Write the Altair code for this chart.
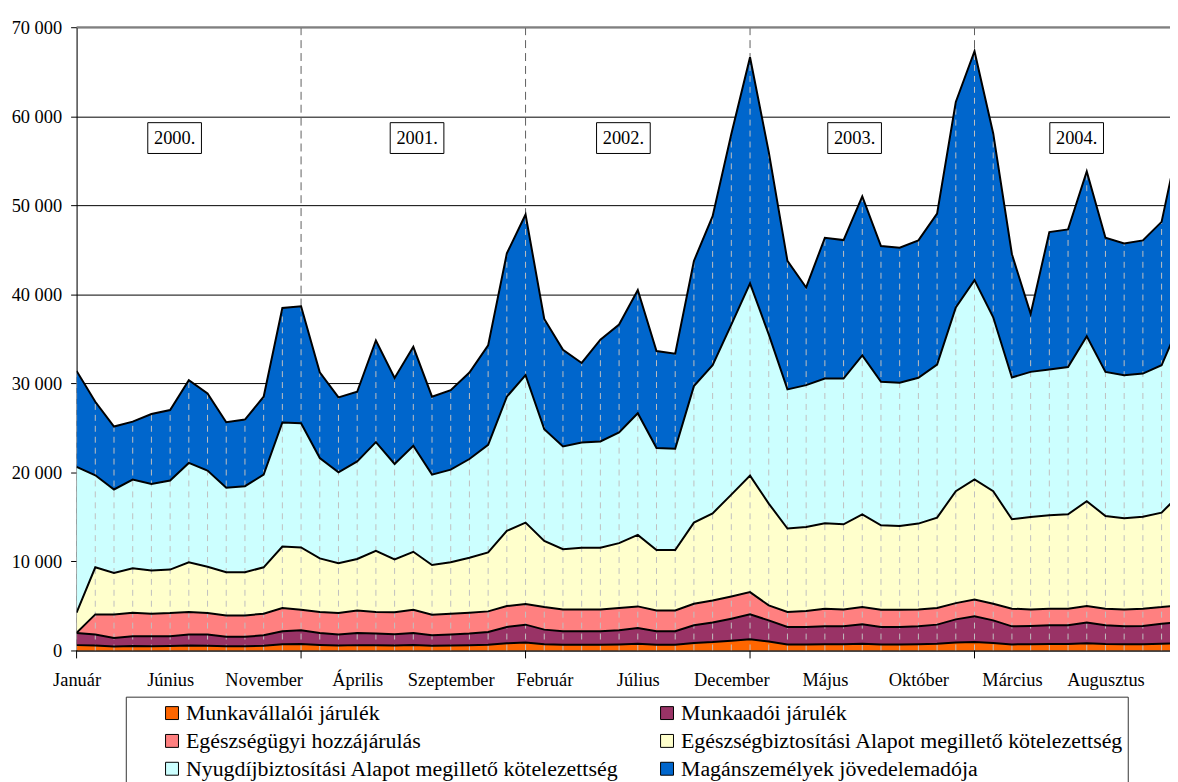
import altair as alt
import pandas as pd

# ---------------- data ----------------
series = [
    "Munkavállalói járulék",
    "Munkaadói járulék",
    "Egészségügyi hozzájárulás",
    "Egészségbiztosítási Alapot megillető kötelezettség",
    "Nyugdíjbiztosítási Alapot megillető kötelezettség",
    "Magánszemélyek jövedelemadója",
]
colors = ["#FF6600", "#993366", "#FF8080", "#FFFFCC", "#CCFFFF", "#0066CC"]

# monthly values, January 2000 .. December 2004 (million HUF)
munkavallaloi = [600, 550, 450, 500, 480, 500, 560, 540, 470, 470, 520, 700,
                 720, 620, 560, 600, 580, 560, 600, 530, 560, 580, 640, 800,
                 900, 700, 640, 640, 650, 680, 750, 650, 650, 850, 950, 1100,
                 1250, 1000, 680, 680, 700, 700, 760, 680, 680, 700, 750, 900,
                 950, 850, 680, 700, 720, 720, 800, 720, 700, 700, 760, 820]
munkaadoi = [1350, 1240, 960, 1100, 1120, 1100, 1230, 1250, 1060, 1060, 1190, 1460,
             1550, 1350, 1230, 1370, 1320, 1260, 1370, 1180, 1230, 1320, 1440, 1840,
             2000, 1640, 1520, 1520, 1510, 1590, 1780, 1510, 1510, 1980, 2180, 2470,
             2800, 2380, 1960, 1960, 2010, 2010, 2180, 1960, 1960, 2010, 2150, 2590,
             2880, 2530, 2030, 2050, 2110, 2110, 2330, 2110, 2010, 2050, 2250, 2380]
egeszsegugyi = [30, 2260, 2640, 2640, 2530, 2600, 2530, 2410, 2410, 2410, 2420, 2600,
                2310, 2350, 2410, 2530, 2420, 2480, 2610, 2310, 2340, 2340, 2310, 2350,
                2310, 2530, 2450, 2450, 2450, 2490, 2420, 2340, 2340, 2420, 2490, 2500,
                2500, 1680, 1680, 1790, 1980, 1900, 1930, 1940, 1940, 1900, 1860, 1830,
                1900, 1870, 1980, 1860, 1860, 1860, 1860, 1860, 1900, 1940, 1860, 1900]
eb_alap = [2260, 5290, 4660, 4990, 4840, 4880, 5580, 5210, 4840, 4840, 5210, 6920,
           6990, 6020, 5590, 5770, 6870, 5930, 6500, 5580, 5770, 6180, 6620, 8440,
           9150, 7440, 6770, 6920, 6920, 7290, 8030, 6770, 6770, 9110, 9780, 11430,
           13090, 11440, 9370, 9440, 9600, 9560, 10420, 9480, 9410, 9640, 10160, 12570,
           13470, 12640, 10040, 10380, 10490, 10600, 11780, 10410, 10230, 10340, 10610, 12480]
nyugdij_alap = [16370, 10340, 9370, 9970, 9740, 10000, 11160, 10790, 9490, 9670, 10410, 13920,
                13950, 11280, 10220, 10970, 12210, 10720, 11910, 10150, 10410, 11080, 12090, 15070,
                16560, 12540, 11540, 11830, 11940, 12430, 13660, 11460, 11390, 15330, 16630, 19100,
                21580, 19000, 15630, 15930, 16250, 16370, 17860, 16110, 16070, 16370, 17190, 20650,
                22400, 19530, 15930, 16300, 16370, 16550, 18530, 16190, 16080, 16070, 16550, 19320]
szja = [10790, 8250, 7070, 6500, 7850, 7920, 9300, 8670, 7360, 7480, 8750, 12870,
        13130, 9630, 8410, 7810, 11420, 9650, 11110, 8750, 8930, 9710, 11160, 16100,
        18040, 12390, 10860, 8930, 11430, 12120, 13840, 10900, 10670, 14060, 16740, 21400,
        25410, 20500, 14430, 10970, 15810, 15550, 17850, 15250, 15180, 15440, 16960, 23060,
        25700, 20650, 13840, 6510, 15440, 15450, 18490, 15060, 14800, 14960, 16110, 21100]

month_labels = ["Január", "Június", "November", "Április", "Szeptember", "Február",
                "Július", "December", "Május", "Október", "Március", "Augusztus"]
month_label_index = [0, 5, 10, 15, 20, 25, 30, 35, 40, 45, 50, 55]
year_start_index = [12, 24, 36, 48]
axis_tick_index = [0, 12, 24, 36, 48]
year_labels = ["2000.", "2001.", "2002.", "2003.", "2004."]
year_label_x = [5.24, 18.2, 29.23, 41.59, 53.46]
year_label_y = [57550, 57550, 57550, 57550, 57550]

# legend reads row by row: (0,1), (2,3), (4,5); Vega fills columns first
legend_order = [series[0], series[2], series[4], series[1], series[3], series[5]]
legend_colors = [colors[0], colors[2], colors[4], colors[1], colors[3], colors[5]]

# ---------------- tables ----------------
values = [munkavallaloi, munkaadoi, egeszsegugyi, eb_alap, nyugdij_alap, szja]
rows = []
for k, (name, vals) in enumerate(zip(series, values)):
    for i, v in enumerate(vals):
        rows.append({"n": i, "series": name, "ord": k, "value": v})
df = pd.DataFrame(rows)

years_df = pd.DataFrame({"n": year_start_index})
ticks_df = pd.DataFrame({"n": axis_tick_index})
ylab_df = pd.DataFrame({"n": year_label_x, "y": year_label_y, "label": year_labels})

W, H = 1100, 627
FONT = "Liberation Serif"

xscale = alt.Scale(domain=[0, 58.45], nice=False, zero=False)
yscale = alt.Scale(domain=[0, 70000], nice=False)

label_js = "[" + ",".join("'" + m + "'" for m in month_labels) + "]"
x_axis = alt.Axis(values=month_label_index, labelExpr=label_js + "[round(datum.value/5)]",
                  ticks=False, grid=False, title=None, domainColor="black",
                  labelFont=FONT, labelFontSize=18.5, labelColor="black",
                  labelPadding=20, labelFlush=False, labelOverlap=False)
y_axis = alt.Axis(values=list(range(0, 70001, 10000)),
                  labelExpr="replace(format(datum.value, ',d'), ',', ' ')",
                  grid=True, gridColor="black", gridWidth=1, tickColor="black",
                  tickSize=6, labelPadding=9, title=None, domainColor="black",
                  labelFont=FONT, labelFontSize=18.5, labelColor="black")

base = alt.Chart(df)
stacked = base.transform_stack(
    stack="value", groupby=["n"], as_=["y0", "y1"],
    sort=[alt.SortField("ord", order="ascending")],
)

year_lines = alt.Chart(years_df).mark_rule(color="#606060", strokeDash=[8, 5], strokeWidth=1).encode(
    x=alt.X("n:Q", scale=xscale), y=alt.value(0), y2=alt.value(H)
)

areas = stacked.mark_area(clip=True, opacity=1).encode(
    x=alt.X("n:Q", scale=xscale, axis=x_axis),
    y=alt.Y("y1:Q", scale=yscale, axis=y_axis, stack=None),
    y2="y0:Q",
    color=alt.Color(
        "series:N",
        scale=alt.Scale(domain=legend_order, range=legend_colors),
        sort=legend_order,
        legend=alt.Legend(
            orient="none", legendX=85, legendY=679, columns=2, columnPadding=37,
            rowPadding=6, symbolType="square", symbolSize=169,
            symbolStrokeColor="black", symbolStrokeWidth=1, symbolOpacity=1,
            labelFont=FONT, labelFontSize=22, labelColor="black", labelOffset=3,
            labelLimit=800, title=None, padding=0,
        ),
    ),
)

drops = base.transform_aggregate(total="sum(value)", groupby=["n"]).transform_calculate(
    zero="0"
).mark_rule(color="#c0c0c0", strokeDash=[6, 5], strokeWidth=1, clip=True).encode(
    x=alt.X("n:Q", scale=xscale), y=alt.Y("zero:Q", scale=yscale), y2="total:Q"
)

outlines = stacked.mark_line(color="black", strokeWidth=2, clip=True).encode(
    x=alt.X("n:Q", scale=xscale),
    y=alt.Y("y1:Q", scale=yscale, stack=None),
    detail="series:N",
)

top_border = alt.Chart(pd.DataFrame({"v": [70000]})).mark_rule(color="#808080", strokeWidth=2).encode(
    y=alt.Y("v:Q", scale=yscale)
)

axis_ticks = alt.Chart(ticks_df).mark_rule(color="black", strokeWidth=1).encode(
    x=alt.X("n:Q", scale=xscale), y=alt.value(H), y2=alt.value(H + 8)
)

box_path = "M-1,-0.574L1,-0.574L1,0.574L-1,0.574Z"
ybox = alt.Chart(ylab_df).mark_point(
    shape=box_path, size=54 * 54, filled=True, fill="white", stroke="black",
    strokeWidth=1, opacity=1
).encode(x=alt.X("n:Q", scale=xscale), y=alt.Y("y:Q", scale=yscale))
ytext = alt.Chart(ylab_df).mark_text(
    font=FONT, fontSize=18.5, color="black", baseline="middle", align="center"
).encode(x=alt.X("n:Q", scale=xscale), y=alt.Y("y:Q", scale=yscale), text="label:N")

legend_box = alt.Chart(pd.DataFrame({"a": [0]})).mark_rect(
    fillOpacity=0, stroke="#333333", strokeWidth=1
).encode(x=alt.value(50), x2=alt.value(1058), y=alt.value(674), y2=alt.value(820))

chart = alt.layer(
    year_lines, areas, drops, outlines, top_border, axis_ticks, ybox, ytext, legend_box
).properties(
    width=W, height=H,
    padding={"left": 69, "top": 17, "right": 0, "bottom": 130},
    autosize=alt.AutoSizeParams(type="none"),
).configure_view(strokeWidth=0).configure(background="white").configure_axis(
    labelFont=FONT
).configure_legend(labelFont=FONT).configure_text(font=FONT)

chart.save("out.html", embed_options={"renderer": "svg", "actions": False})
